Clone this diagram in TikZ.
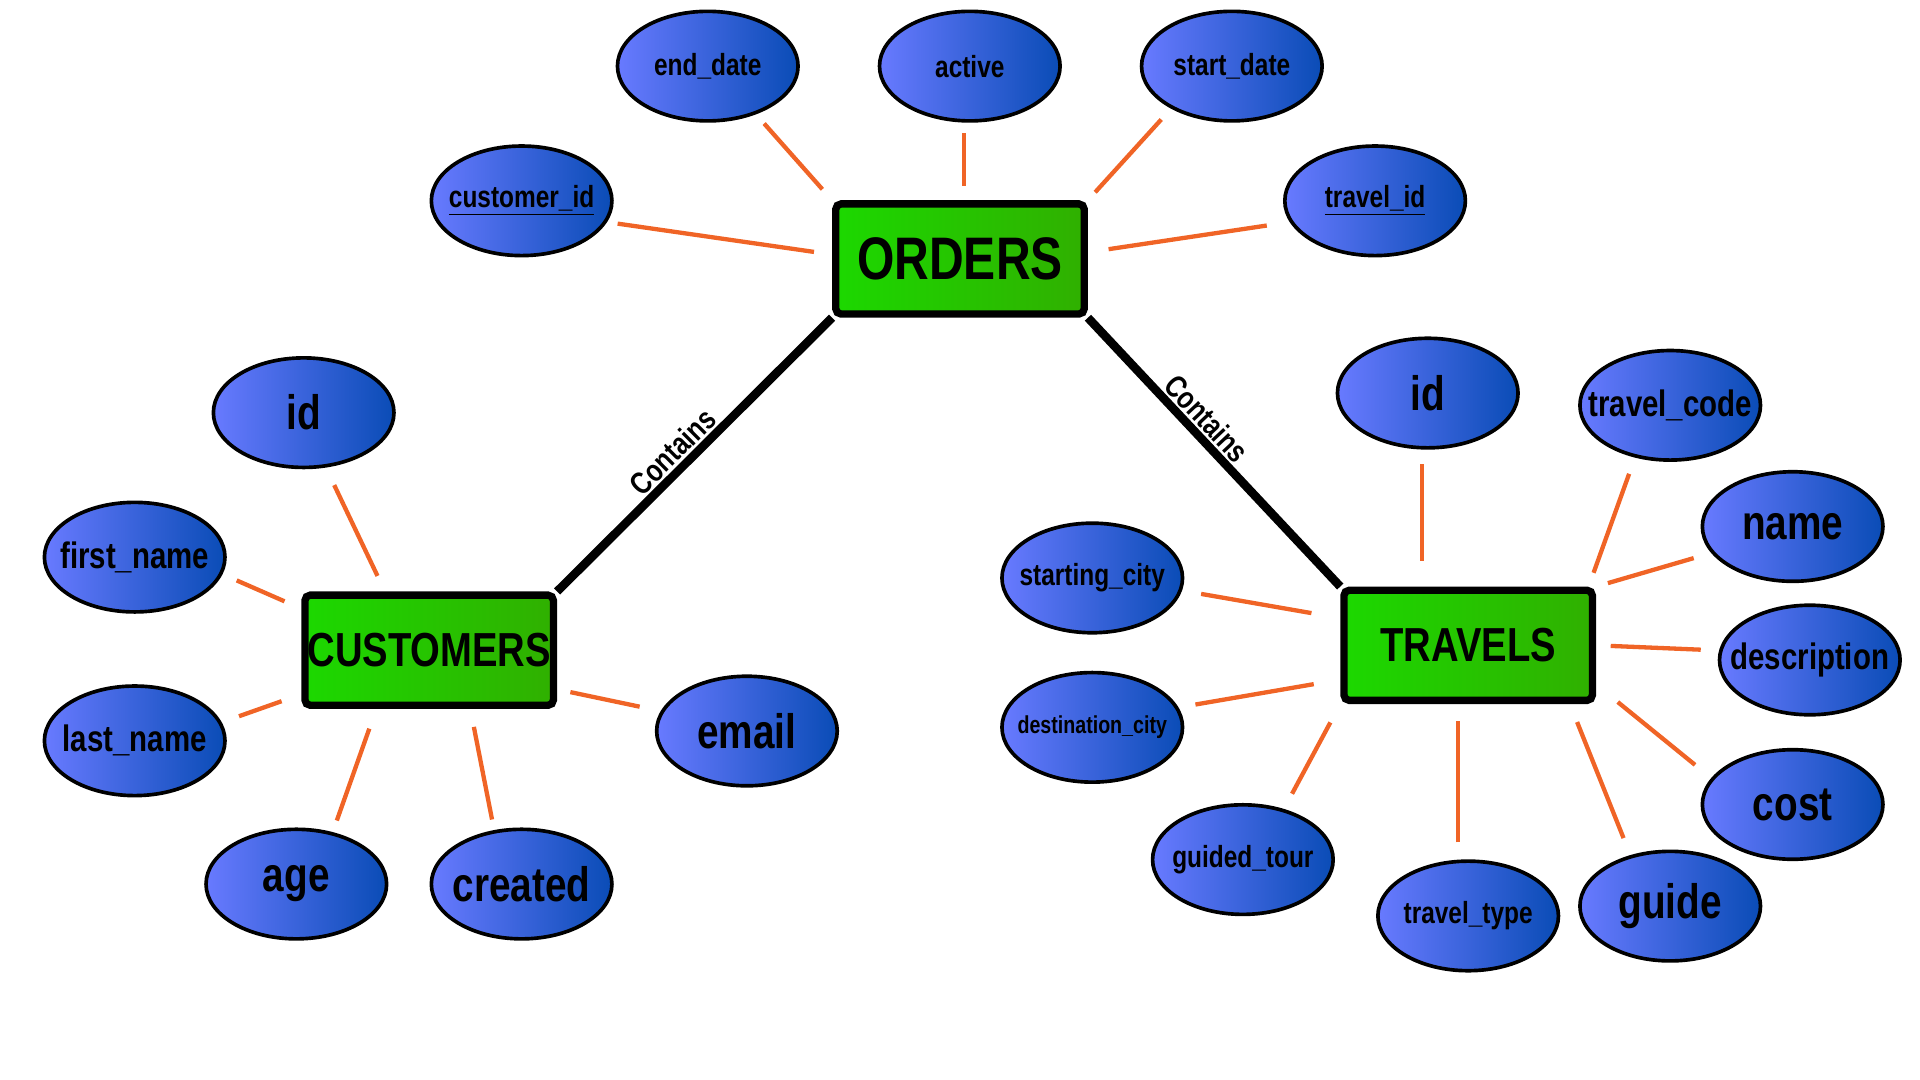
\documentclass[tikz,border=0pt]{standalone}
\usepackage{fontspec}
\setmainfont{Liberation Sans}[FakeStretch=0.8]
\usetikzlibrary{shapes.geometric}
\definecolor{entL}{RGB}{28,216,0}
\definecolor{entR}{RGB}{48,176,0}
\definecolor{attL}{RGB}{104,122,255}
\definecolor{attR}{RGB}{10,76,182}
\definecolor{linkor}{RGB}{240,100,38}
\tikzset{
  nowidth/.style={execute at begin node={\hbox to 0pt\bgroup\hss}, execute at end node={\hss\egroup}},
  entity/.style={rectangle, draw, line width=3.4pt, rounded corners=2.5pt, left color=entL, right color=entR,
    minimum width=4.06cm, minimum height=1.8cm, inner sep=0pt, nowidth,
    font=\bfseries\fontsize{22.2}{26}\selectfont},
  attr/.style={ellipse, draw, line width=1.7pt, left color=attL, right color=attR,
    minimum width=2.95cm, minimum height=1.79cm, inner sep=0pt, nowidth,
    font=\bfseries\fontsize{14.2}{17}\selectfont},
  attrmid/.style={attr, font=\bfseries\fontsize{17.1}{20}\selectfont},
  attrbig/.style={attr, font=\bfseries\fontsize{22.5}{26}\selectfont},
  attrsmall/.style={attr, font=\bfseries\fontsize{11.4}{13}\selectfont},
  attrline/.style={draw=linkor, line width=2pt},
  rel/.style={line width=4pt},
  rellabel/.style={sloped, above, inner sep=1pt, font=\bfseries\fontsize{14.5}{17}\selectfont}
}
\begin{document}
\begin{tikzpicture}[x=0.02cm, y=-0.02cm]
    \useasboundingbox (0,0) rectangle (1568,882);
    % entities
    \node[entity] (orders) at (784,211.5) {\fontsize{27.9}{32}\selectfont ORDERS};
    \node[entity] (customers) at (350.5,531) {CUSTOMERS};
    \node[entity] (travels) at (1199,527) {TRAVELS};
    % relations
    \draw[rel] (customers.north east) -- node[rellabel, pos=0.465] {Contains} (orders.south west);
    \draw[rel] (orders.south east) -- node[rellabel, pos=0.42] {Contains} (travels.north west);
    % orders attributes
    \node[attr] (ocust) at (426,164) {\underline{customer\_id}};
    \node[attr] (oend) at (578,54) {end\_date};
    \node[attr] (oactive) at (792,54) {active};
    \node[attr] (ostart) at (1006,54) {start\_date};
    \node[attr] (otravel) at (1123,164) {\underline{travel\_id}};
    \draw[attrline, shorten <=5pt, shorten >=8.5pt] (ocust.-14) -- (orders.178);
    \draw[attrline, shorten <=5.7pt, shorten >=6.8pt] (oend.-45) -- (orders.north west);
    \draw[attrline, shorten <=5pt, shorten >=6.5pt] (oactive.-96) -- (oactive.-96 |- orders.north);
    \draw[attrline, shorten <=6.8pt, shorten >=5pt] (ostart.-145) -- (orders.north east);
    \draw[attrline, shorten <=10.8pt, shorten >=9.7pt] (otravel.-166) -- (orders.3);
    % customers attributes
    \node[attrbig] (cid) at (248,337) {id};
    \node[attrmid] (cfirst) at (110,455) {first\_name};
    \node[attrmid] (clast) at (110,605) {last\_name};
    \node[attrbig] (cage) at (242,722) {age};
    \node[attrbig] (ccreated) at (426,722) {created};
    \node[attrbig] (cemail) at (610,597) {email};
    \draw[attrline, shorten <=9pt, shorten >=8pt] (cid.-68) -- (customers.127);
    \draw[attrline, shorten <=7.2pt, shorten >=8.5pt] (cfirst.-11) -- (customers.162);
    \draw[attrline, shorten <=8.5pt, shorten >=9.7pt] (clast.12) -- (customers.199);
    \draw[attrline, shorten <=5.7pt, shorten >=9.7pt] (cage.55) -- (customers.-132);
    \draw[attrline, shorten <=5pt, shorten >=8.5pt] (ccreated.117) -- (customers.-55);
    \draw[attrline, shorten <=10pt, shorten >=6.3pt] (cemail.167) -- (customers.-17);
    % travels attributes
    \node[attrbig] (tid) at (1166,321) {id};
    \node[attrmid] (tcode) at (1364,331) {travel\_code};
    \node[attrbig] (tname) at (1464,430) {name};
    \node[attrmid] (tdesc) at (1478,539) {description};
    \node[attrbig] (tcost) at (1464,657) {cost};
    \node[attrbig] (tguide) at (1364,740) {guide};
    \node[attr] (ttype) at (1199,748) {travel\_type};
    \node[attr] (tguided) at (1015,702) {guided\_tour};
    \node[attrsmall] (tdest) at (892,594) {destination\_city};
    \node[attr] (tstart) at (892,472) {starting\_city};
    \draw[attrline, shorten <=6.8pt, shorten >=12pt] (tid.-96) -- (tid.-96 |- travels.north);
    \draw[attrline, shorten <=8pt, shorten >=6.8pt] (tcode.-124) -- (travels.26);
    \draw[attrline, shorten <=8.5pt, shorten >=5.7pt] (tname.-162) -- (travels.north east);
    \draw[attrline, shorten <=8.5pt, shorten >=6.8pt] (tdesc.174) -- (travels.east);
    \draw[attrline, shorten <=9.7pt, shorten >=13pt] (tcost.162) -- (travels.-17);
    \draw[attrline, shorten <=8.5pt, shorten >=9pt] (tguide.128) -- (travels.-30);
    \draw[attrline, shorten <=8pt, shorten >=8pt] (ttype.100) -- (ttype.100 |- travels.south);
    \draw[attrline, shorten <=8pt, shorten >=9.7pt] (tguided.51) -- (travels.south west);
    \draw[attrline, shorten <=8pt, shorten >=12.5pt] (tdest.13) -- (travels.195);
    \draw[attrline, shorten <=9pt, shorten >=13.6pt] (tstart.-8) -- (travels.168);
\end{tikzpicture}
\end{document}
